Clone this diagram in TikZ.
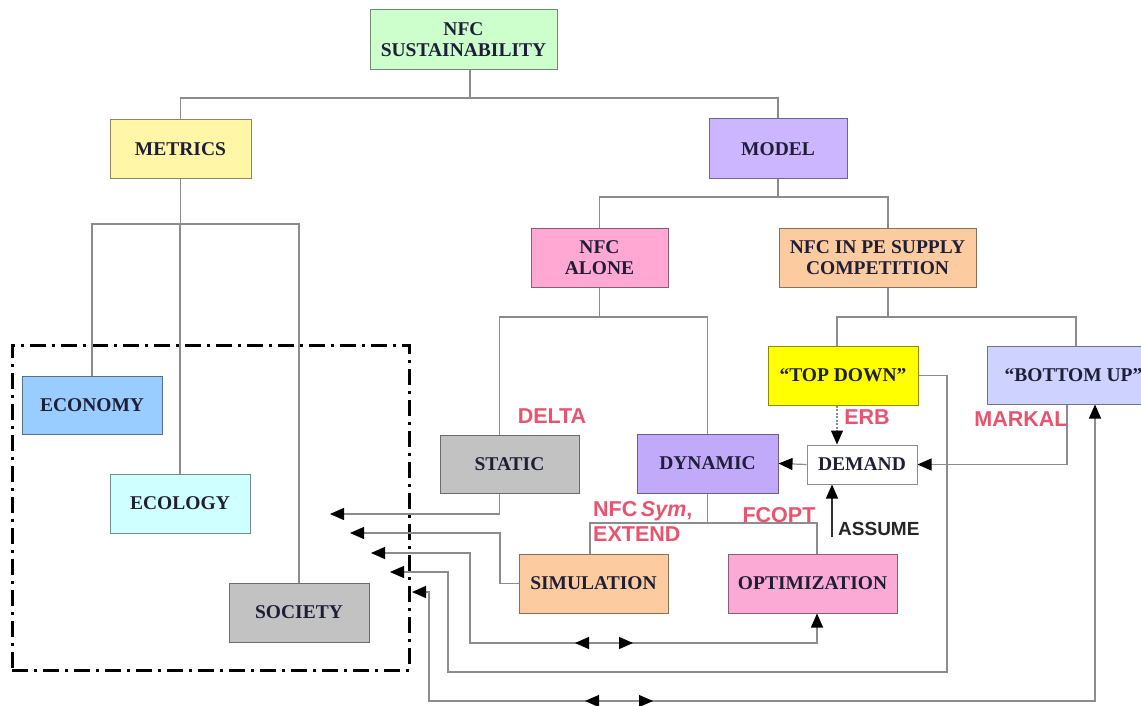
\documentclass[tikz,border=0pt]{standalone}
\usepackage{fontspec}
\setmainfont{Liberation Serif}
\newfontfamily\labfont{Liberation Sans}
\usetikzlibrary{arrows.meta,decorations.markings}
\definecolor{cGreen}{RGB}{204,255,204}
\definecolor{cYellowL}{RGB}{255,246,168}
\definecolor{cLav}{RGB}{204,182,255}
\definecolor{cPink}{RGB}{255,168,212}
\definecolor{cPeach}{RGB}{252,204,160}
\definecolor{cYellow}{RGB}{255,255,0}
\definecolor{cBlueL}{RGB}{206,210,255}
\definecolor{cGray}{RGB}{194,194,194}
\definecolor{cDyn}{RGB}{194,170,250}
\definecolor{cEco}{RGB}{153,204,255}
\definecolor{cEcol}{RGB}{208,255,255}
\definecolor{cOpt}{RGB}{250,170,212}
\definecolor{txt}{RGB}{30,30,55}
\definecolor{lab}{RGB}{232,84,112}
\definecolor{lin}{RGB}{140,140,140}
\tikzset{
  box/.style={rectangle, fill=#1, draw=#1!55!black, line width=1pt, inner sep=0pt,
    text=txt, align=center, font=\bfseries\fontsize{19.5}{21}\selectfont},
  conn/.style={draw=lin, line width=1.2pt},
  arr/.style={-{Triangle[length=14pt,width=12pt,black]}},
  arrboth/.style={{Triangle[length=14pt,width=12pt,black]}-{Triangle[length=14pt,width=12pt,black]}},
  mids/.style 2 args={postaction={decorate,decoration={markings,
     mark=at position #1pt with {\arrowreversed{Triangle[length=14pt,width=12pt,black]}},
     mark=at position #2pt with {\arrow{Triangle[length=14pt,width=12pt,black]}}}}},
  lbl/.style={text=lab, font=\labfont\bfseries\fontsize{21.5}{25}\selectfont, inner sep=0pt, align=left},
  grpbox/.style={draw=black, line width=3pt, dash pattern=on 16pt off 6pt on 3pt off 6pt,
    inner sep=0pt, rectangle}
}
\begin{document}
\begin{tikzpicture}[x=1pt,y=-1pt]
\clip (0,0) rectangle (1141,706);
\fill[white] (0,0) rectangle (1141,706);
% group frame
\node[grpbox, minimum width=397, minimum height=325] (grp) at (210.5,507.5) {};
% boxes
\node[box=cGreen, minimum width=187, minimum height=60] (sus) at (463.5,40) {NFC\\SUSTAINABILITY};
\node[box=cYellowL, minimum width=141, minimum height=59] (met) at (180.5,149.5) {METRICS};
\node[box=cLav, minimum width=138, minimum height=60] (mod) at (778,149) {MODEL};
\node[box=cPink, minimum width=137, minimum height=59] (alone) at (599.5,257.5) {NFC\\ALONE};
\node[box=cPeach, minimum width=197, minimum height=59] (nfcpe) at (877.5,257.5) {NFC IN PE SUPPLY\\COMPETITION};
\node[box=cYellow, minimum width=150, minimum height=59] (top) at (843,375.5) {“TOP DOWN”};
\node[box=cBlueL, minimum width=173, minimum height=58] (bot) at (1073.5,375) {“BOTTOM UP”};
\node[box=cGray, minimum width=139, minimum height=58] (stat) at (509.5,464) {STATIC};
\node[box=cDyn, minimum width=141, minimum height=59] (dyn) at (707.5,463.5) {DYNAMIC};
\node[box=white, minimum width=110, minimum height=39] (dem) at (862,464.5) {DEMAND};
\node[box=cPeach, minimum width=149, minimum height=59] (sim) at (593.5,583.5) {SIMULATION};
\node[box=cOpt, minimum width=169, minimum height=59] (opt) at (812.5,583.5) {OPTIMIZATION};
\node[box=cEco, minimum width=140, minimum height=58] (econ) at (92,405) {ECONOMY};
\node[box=cEcol, minimum width=140, minimum height=59] (ecol) at (180,503.5) {ECOLOGY};
\node[box=cGray, minimum width=140, minimum height=59] (soc) at (299,612.5) {SOCIETY};
% levels
\coordinate (y1) at (0,98);
\coordinate (y2) at (0,224);
\coordinate (y3) at (0,197);
\coordinate (y4) at (0,317);
\coordinate (y5) at (0,523);
% tree lines
\coordinate (susb) at ([xshift=6.5pt]sus.south);
\draw[conn] (susb) -- (susb |- y1);
\draw[conn] (met.north) -- (met.north |- y1) -- (mod.north |- y1) -- (mod.north);
\draw[conn] (met.south) -- (met.south |- y2);
\draw[conn] (econ.north) -- (econ.north |- y2) -- (soc.north |- y2) -- (soc.north);
\draw[conn] (ecol.north) -- (ecol.north |- y2);
\coordinate (pet) at ([xshift=10.5pt]nfcpe.north);
\coordinate (peb) at ([xshift=10.5pt]nfcpe.south);
\draw[conn] (mod.south) -- (mod.south |- y3);
\draw[conn] (alone.north) -- (alone.north |- y3) -- (pet |- y3) -- (pet);
\coordinate (stt) at ([xshift=-10pt]stat.north);
\draw[conn] (alone.south) -- (alone.south |- y4);
\draw[conn] (stt) -- (stt |- y4) -- (dyn.north |- y4) -- (dyn.north);
\coordinate (tdt) at ([xshift=-6pt]top.north);
\coordinate (but) at ([xshift=2.5pt]bot.north);
\draw[conn] (peb) -- (peb |- y4);
\draw[conn] (tdt) -- (tdt |- y4) -- (but |- y4) -- (but);
% demand links
\coordinate (tdb) at ([xshift=-6pt]top.south);
\draw[conn, arr, dash pattern=on 2pt off 1.5pt] (tdb) -- (tdb |- dem.north);
\draw[conn, arr] (dem.west) -- (dyn.east);
\coordinate (bub) at ([xshift=-6.5pt]bot.south);
\draw[conn, arr] (bub) |- (dem.east);
\coordinate (asb) at (832,537);
\draw[conn, draw=black!80, arr] (asb) -- (asb |- dem.south);
% dynamic to sim/opt
\coordinate (simt) at ([xshift=-3.5pt]sim.north);
\coordinate (optt) at ([xshift=4.5pt]opt.north);
\draw[conn] (dyn.south) -- (dyn.south |- y5);
\draw[conn] (simt) -- (simt |- y5) -- (optt |- y5) -- (optt);
% arrows toward metrics
\coordinate (t1) at (330,514);
\coordinate (stb) at ([xshift=-10pt]stat.south);
\draw[conn, arr] (stb) |- (t1);
\coordinate (t2) at (350,533);
\coordinate (k2) at (500,533);
\draw[conn, arr] (sim.west) -| (k2) -- (t2);
\coordinate (t3) at (371,553);
\coordinate (k3) at (470,643);
\coordinate (optb) at ([xshift=4.5pt]opt.south);
\draw[conn, arrboth, mids={294}{352}] (t3) -| (k3) -| (optb);
\coordinate (t4) at (390,572);
\coordinate (k4) at (448,672);
\coordinate (k4b) at (947,672);
\draw[conn, arr] (top.east) -| (k4b) -- (k4) |- (t4);
\coordinate (t5) at (412,592);
\coordinate (k5) at (429,701);
\coordinate (bua) at ([xshift=21.5pt]bot.south);
\draw[conn, arrboth, mids={282}{350}] (t5) -| (k5) -| (bua);
% labels
\node[lbl] (ldelta) at (552,416) {DELTA};
\node[lbl] (lerb) at (867,417) {ERB};
\node[lbl] (lmarkal) at (1021,419) {MARKAL};
\node[lbl, anchor=west] (lsym) at (593,521) {NFC\,\textit{Sym},\\EXTEND};
\node[lbl] (lfcopt) at (779,515) {FCOPT};
\node[lbl, text=black!85, font=\labfont\bfseries\fontsize{19}{21}\selectfont, anchor=west] (lassume) at (838,529) {ASSUME};
\end{tikzpicture}
\end{document}
